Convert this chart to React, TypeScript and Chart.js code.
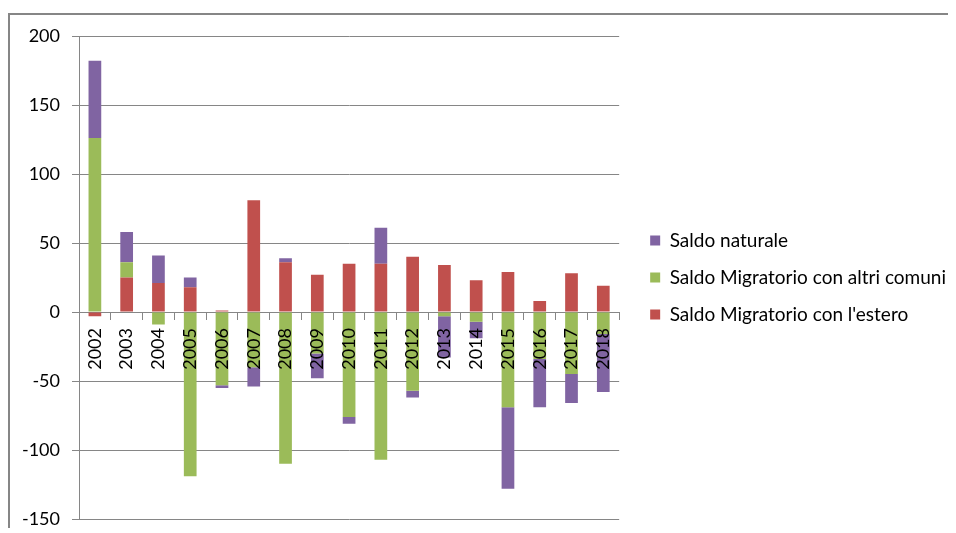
import React, { useEffect, useRef } from "react";
import { Chart, registerables } from "chart.js";

Chart.register(...registerables);

const years = ["2002","2003","2004","2005","2006","2007","2008","2009","2010","2011","2012","2013","2014","2015","2016","2017","2018"];
const saldoEstero = [-3, 25, 21, 18, 1, 81, 36, 27, 35, 35, 40, 34, 23, 29, 8, 28, 19];
const saldoAltriComuni = [126, 11, -9, -119, -53, -40, -110, -30, -76, -107, -57, -3, -7, -69, -34, -45, -16];
const saldoNaturale = [56, 22, 20, 7, -2, -14, 3, -18, -5, 26, -5, -30, -12, -59, -35, -21, -42];
const yTicks = [-150, -100, -50, 0, 50, 100, 150, 200];

const GRID = "#868686";

export default function App() {
  const ref = useRef<HTMLCanvasElement | null>(null);
  useEffect(() => {
    if (!ref.current) return;
    Chart.defaults.font.family = "Lato";
    Chart.defaults.font.size = 18;
    Chart.defaults.color = "#000";
    const chart = new Chart(ref.current, {
      type: "bar",
      data: {
        labels: years,
        datasets: [
          { label: "Saldo Migratorio con l'estero", data: saldoEstero, backgroundColor: "#C0504D" },
          { label: "Saldo Migratorio con altri comuni", data: saldoAltriComuni, backgroundColor: "#9BBB59" },
          { label: "Saldo naturale", data: saldoNaturale, backgroundColor: "#8064A2" },
        ],
      },
      options: {
        animation: false,
        responsive: true,
        maintainAspectRatio: false,
        layout: { padding: { top: 21, bottom: 14, left: 0, right: 0 } },
        datasets: { bar: { categoryPercentage: 1, barPercentage: 0.4 } },
        plugins: {
          tooltip: { enabled: false },
          legend: {
            position: "right",
            reverse: true,
            maxWidth: 400,
            labels: { boxWidth: 10, boxHeight: 10, padding: 18, color: "#000", font: { size: 19 } },
          },
        },
        scales: {
          x: {
            stacked: true,
            position: { y: 0 } as any,
            grid: { display: true, drawOnChartArea: false, drawTicks: true, tickLength: 7, color: GRID, offset: true },
            border: { display: true, color: GRID, width: 1 },
            ticks: { autoSkip: false, minRotation: 90, maxRotation: 90, padding: 9, z: 1, color: "#000", font: { size: 18 } },
          },
          y: {
            stacked: true,
            min: -150,
            max: 200,
            afterBuildTicks: (s: any) => { s.ticks = yTicks.map((v) => ({ value: v })); },
            afterFit: (s: any) => { s.width = 69; s.paddingTop = 0; s.paddingBottom = 0; },
            grid: { color: GRID, tickLength: 7, drawTicks: true },
            border: { display: true, color: GRID, width: 1 },
            ticks: { padding: 12, color: "#000", font: { size: 18 } },
          },
          yR: {
            type: "linear",
            position: "right",
            display: true,
            grid: { display: false },
            border: { display: false },
            ticks: { display: false },
            afterFit: (s: any) => { s.width = 13; s.paddingTop = 0; s.paddingBottom = 0; },
          },
        },
      },
    });
    return () => chart.destroy();
  }, []);
  return (
    <div style={{ position: "relative", top: 5, borderTop: "2px solid #868686", borderLeft: "2px solid #868686", width: 946, height: 518 }}>
      <div style={{ position: "relative", width: 946, height: 518 }}>
        <canvas ref={ref} />
      </div>
    </div>
  );
}
